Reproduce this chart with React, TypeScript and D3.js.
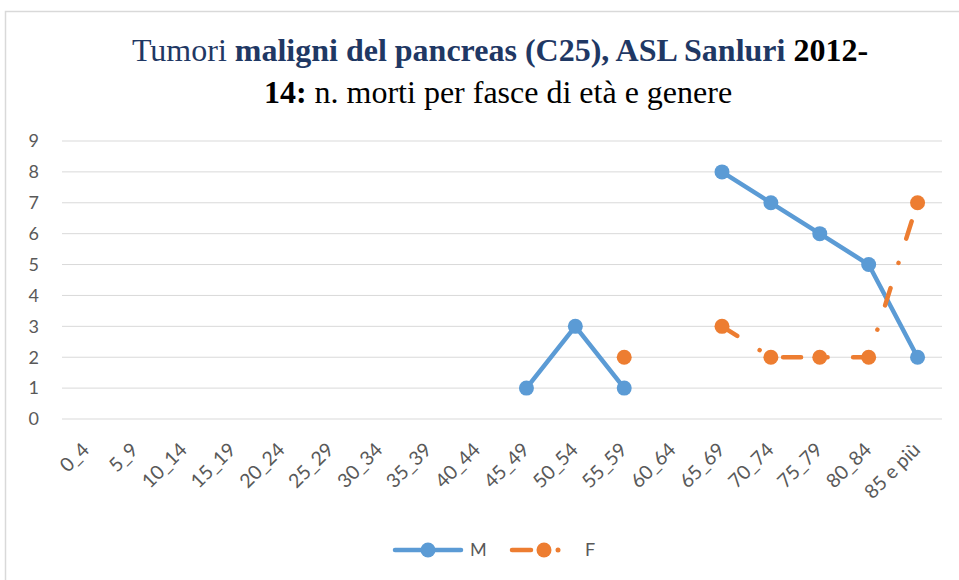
import React from "react";
import * as d3 from "d3";

const categories = ["0_4","5_9","10_14","15_19","20_24","25_29","30_34","35_39","40_44","45_49","50_54","55_59","60_64","65_69","70_74","75_79","80_84","85 e più"];
const maleValues: (number | null)[] = [null,null,null,null,null,null,null,null,null,1,3,1,null,8,7,6,5,2];
const femaleValues: (number | null)[] = [null,null,null,null,null,null,null,null,null,null,null,2,null,3,2,2,2,7];
const yTicks = [0,1,2,3,4,5,6,7,8,9];
const seriesNames = ["M","F"];
const colors = ["#5B9BD5","#ED7D31"];

const W = 959, H = 580;
const plot = { left: 62, right: 942, top: 141, bottom: 419 };
const axisFont = "Lato, 'Open Sans', sans-serif";
const titleFont = "'Liberation Serif', 'Times New Roman', serif";

export default function App() {
  const x = d3.scaleBand<string>().domain(categories).range([plot.left, plot.right]).padding(0);
  const cx = (c: string) => (x(c) as number) + x.bandwidth() / 2;
  const y = d3.scaleLinear().domain([0, 9]).range([plot.bottom, plot.top]);

  const mk = (vals: (number | null)[]) =>
    categories.map((c, i) => ({ c, v: vals[i] }));
  const line = d3.line<{ c: string; v: number | null }>()
    .defined(d => d.v !== null)
    .x(d => cx(d.c))
    .y(d => y(d.v as number));

  const series = [mk(maleValues), mk(femaleValues)];
  const dash = ["none", "18 26.5 0.01 25.5"];

  return (
    <svg width={W} height={H} style={{ position: "absolute", left: 0, top: 0, background: "#fff" }}>
      <rect x={5.5} y={11.5} width={W} height={H} fill="#fff" stroke="#D9D9D9" strokeWidth={1.5} />
      <text x={500} y={61} textAnchor="middle" fontFamily={titleFont} fontSize={32}>
        <tspan fill="#1F3864">Tumori </tspan>
        <tspan fill="#1F3864" fontWeight="bold">maligni del pancreas (C25), ASL Sanluri </tspan>
        <tspan fill="#000" fontWeight="bold">2012-</tspan>
      </text>
      <text x={498} y={103} textAnchor="middle" fontFamily={titleFont} fontSize={32} fill="#000">
        <tspan fontWeight="bold">14:</tspan>
        <tspan> n. morti per fasce di età e genere</tspan>
      </text>
      {yTicks.map(t => (
        <g key={t}>
          <line x1={plot.left} x2={plot.right} y1={y(t)} y2={y(t)} stroke="#D9D9D9" strokeWidth={1} />
          <text x={39} y={y(t)} dy="0.35em" textAnchor="end" fontFamily={axisFont} fontSize={18} fill="#595959">{t}</text>
        </g>
      ))}
      {categories.map(c => (
        <text key={c} transform={`translate(${cx(c) + 4},${451}) rotate(-45)`} textAnchor="end"
          fontFamily={axisFont} fontSize={19.5} fill="#595959">{c}</text>
      ))}
      {series.map((s, i) => (
        <g key={i}>
          <path d={line(s) || ""} fill="none" stroke={colors[i]} strokeWidth={4.5}
            strokeDasharray={dash[i]} strokeLinecap="round" strokeLinejoin="round" />
          {s.filter(d => d.v !== null).map(d => (
            <circle key={d.c} cx={cx(d.c)} cy={y(d.v as number)} r={7.5} fill={colors[i]} />
          ))}
        </g>
      ))}
      <g fontFamily={axisFont} fontSize={18} fill="#595959">
        <line x1={395} x2={461} y1={550} y2={550} stroke={colors[0]} strokeWidth={4.5} strokeLinecap="round" />
        <circle cx={428} cy={550} r={7.5} fill={colors[0]} />
        <text x={470} y={550} dy="0.35em">{seriesNames[0]}</text>
        <line x1={512} x2={531} y1={550} y2={550} stroke={colors[1]} strokeWidth={4.5} strokeLinecap="round" />
        <circle cx={544} cy={550} r={7.5} fill={colors[1]} />
        <circle cx={558} cy={550} r={2.5} fill={colors[1]} />
        <text x={585} y={550} dy="0.35em">{seriesNames[1]}</text>
      </g>
    </svg>
  );
}
